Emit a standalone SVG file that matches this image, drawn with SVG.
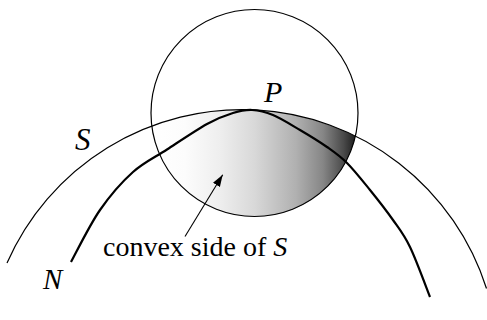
<svg xmlns="http://www.w3.org/2000/svg" width="487" height="320" viewBox="0 0 487 320">
  <style>
    .thin { fill: none; stroke: #000; stroke-width: 1.2; }
    .thick { fill: none; stroke: #000; stroke-width: 2.2; stroke-linecap: butt; }
    .lbl { font-family: "Liberation Serif", "Times New Roman", serif; font-style: italic; fill: #000; }
    .txt { font-family: "Liberation Serif", "Times New Roman", serif; font-size: 28px; fill: #000; }
  </style>
  <defs>
    <linearGradient id="shade" gradientUnits="userSpaceOnUse" x1="152" y1="0" x2="358" y2="0">
      <stop offset="0" stop-color="#ffffff"/>
      <stop offset="0.16" stop-color="#fcfcfc"/>
      <stop offset="0.33" stop-color="#eeeeee"/>
      <stop offset="0.5" stop-color="#d8d8d8"/>
      <stop offset="0.7" stop-color="#b0b0b0"/>
      <stop offset="0.83" stop-color="#868686"/>
      <stop offset="0.93" stop-color="#4a4a4a"/>
      <stop offset="1" stop-color="#151515"/>
    </linearGradient>
    <marker id="arrow" markerUnits="userSpaceOnUse" markerWidth="13" markerHeight="9" refX="12" refY="4" orient="auto">
      <path d="M0,0 L12,4 L0,8 Z" fill="#000"/>
    </marker>
  </defs>

  <g id="convex-region">
    <path d="M151.8,126.1 A256.6,256.6 0 0 1 355.4,136.3 A103.5,103.5 0 0 1 151.8,126.1 Z" fill="url(#shade)" stroke="none"/>
  </g>

  <g id="circle">
    <circle cx="254.5" cy="113" r="103.5" class="thin"/>
  </g>

  <g id="surface-S">
    <path d="M7,263 A256.6,256.6 0 0 1 486.5,288.5" class="thin"/>
  </g>

  <g id="curve-N">
    <path class="thick" d="M71,262 C75.8,253.3 89.7,224.8 100,210 C110.3,195.2 121.8,182 133,172 C144.2,162 154.7,157.5 167,149.5 C179.3,141.5 196,130.2 207,124 C218,117.8 225.5,115.3 233,113 C240.5,110.7 245.3,109.7 252,110 C258.7,110.3 265,111.7 273,115 C281,118.3 291,124.7 300,130 C309,135.3 319.2,141.5 327,147 C334.8,152.5 339.8,155.8 347,163 C354.2,170.2 362.3,180.5 370,190 C377.7,199.5 386.3,210.5 393,220 C399.7,229.5 403.8,234.2 410,247 C416.2,259.8 426.7,288.7 430,297"/>
  </g>

  <g id="connectors">
    <line x1="185" y1="236.5" x2="222.7" y2="174.7" stroke="#000" stroke-width="1.1" marker-end="url(#arrow)"/>
  </g>

  <g id="labels">
    <text class="lbl" x="264" y="101.5" font-size="30">P</text>
    <text class="lbl" x="75" y="150" font-size="31">S</text>
    <text class="lbl" x="43" y="289.3" font-size="29">N</text>
    <text class="txt" x="103" y="256">convex side of <tspan font-style="italic">S</tspan></text>
  </g>
</svg>
